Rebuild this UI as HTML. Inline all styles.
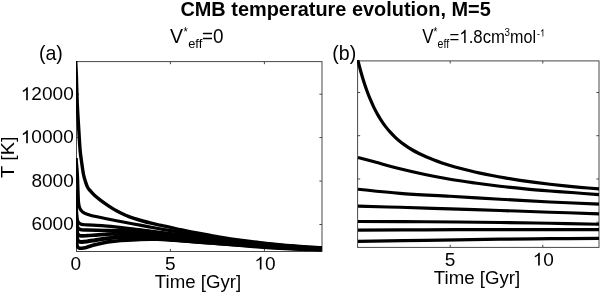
<!DOCTYPE html>
<html><head><meta charset="utf-8"><title>CMB temperature evolution</title>
<style>
html,body{margin:0;padding:0;background:#fff;}
body{width:600px;height:293px;overflow:hidden;}
svg{display:block;}
text{font-family:"Liberation Sans",sans-serif;fill:#000;}
</style></head><body>
<svg width="600" height="293" viewBox="0 0 600 293">
<rect x="0" y="0" width="600" height="293" fill="#fff"/>

<g stroke="#484848" stroke-width="1" fill="none"><rect x="76.50" y="61.60" width="245.50" height="189.90"/><path d="M170.40 251.50 v-2.60 M170.40 61.60 v2.60"/><path d="M264.40 251.50 v-2.60 M264.40 61.60 v2.60"/><path d="M76.50 94.20 h2.60 M322.00 94.20 h-2.60"/><path d="M76.50 137.60 h2.60 M322.00 137.60 h-2.60"/><path d="M76.50 181.10 h2.60 M322.00 181.10 h-2.60"/><path d="M76.50 224.50 h2.60 M322.00 224.50 h-2.60"/></g>
<g stroke="#484848" stroke-width="1" fill="none"><rect x="357.60" y="60.90" width="241.40" height="186.50"/><path d="M450.20 247.40 v-2.60 M450.20 60.90 v2.60"/><path d="M542.80 247.40 v-2.60 M542.80 60.90 v2.60"/><path d="M357.60 92.50 h2.60 M599.00 92.50 h-2.60"/><path d="M357.60 135.70 h2.60 M599.00 135.70 h-2.60"/><path d="M357.60 179.00 h2.60 M599.00 179.00 h-2.60"/><path d="M357.60 222.20 h2.60 M599.00 222.20 h-2.60"/></g>
<defs><clipPath id="ca"><rect x="76.00" y="61.00" width="246.00" height="191.00"/></clipPath><clipPath id="cb"><rect x="357.00" y="60.00" width="242.50" height="188.00"/></clipPath></defs>
<g clip-path="url(#ca)"><g transform="scale(1 1)" fill="none" stroke="#000" stroke-linecap="butt" stroke-linejoin="round">
<path d="M75.60 58.00 C75.62 58.58 75.57 58.50 75.70 61.50 C75.83 64.50 76.25 72.25 76.40 76.00 C76.55 79.75 76.45 79.33 76.60 84.00 C76.75 88.67 76.98 97.17 77.30 104.00 C77.62 110.83 78.03 117.33 78.50 125.00 C78.97 132.67 79.58 143.83 80.10 150.00 C80.62 156.17 81.05 158.00 81.60 162.00 C82.15 166.00 82.77 170.75 83.40 174.00 C84.03 177.25 84.68 179.25 85.40 181.50 C86.12 183.75 86.75 185.80 87.70 187.50 C88.65 189.20 89.88 190.32 91.10 191.70 C92.32 193.08 93.52 194.45 95.00 195.80 C96.48 197.15 97.75 198.13 100.00 199.80 C102.25 201.47 105.67 203.92 108.50 205.80 C111.33 207.68 114.15 209.53 117.00 211.10 C119.85 212.67 122.77 213.98 125.60 215.20 C128.43 216.42 131.15 217.43 134.00 218.40 C136.85 219.37 139.83 220.20 142.70 221.00 C145.57 221.80 148.37 222.52 151.20 223.20 C154.03 223.88 156.85 224.48 159.70 225.10 C162.55 225.72 164.92 226.15 168.30 226.90 C171.68 227.65 176.22 228.77 180.00 229.60 C183.78 230.43 186.33 231.00 191.00 231.90 C195.67 232.80 203.17 234.13 208.00 235.00 C212.83 235.87 214.67 236.25 220.00 237.10 C225.33 237.95 233.33 239.18 240.00 240.10 C246.67 241.02 251.67 241.68 260.00 242.60 C268.33 243.52 279.67 244.73 290.00 245.60 C300.33 246.47 316.67 247.43 322.00 247.80" stroke-width="3.4"/>
<path d="M76.20 158.00 C76.23 158.67 76.20 159.33 76.40 162.00 C76.60 164.67 77.13 169.33 77.40 174.00 C77.67 178.67 77.82 185.33 78.00 190.00 C78.18 194.67 78.27 199.17 78.50 202.00 C78.73 204.83 78.98 205.62 79.40 207.00 C79.82 208.38 80.17 209.27 81.00 210.30 C81.83 211.33 82.72 212.33 84.40 213.20 C86.08 214.07 87.20 214.53 91.10 215.50 C95.00 216.47 102.23 217.87 107.80 219.00 C113.37 220.13 118.92 221.23 124.50 222.30 C130.08 223.37 135.72 224.37 141.30 225.40 C146.88 226.43 152.55 227.53 158.00 228.50 C163.45 229.47 168.50 230.32 174.00 231.20 C179.50 232.08 183.33 232.60 191.00 233.80 C198.67 235.00 208.50 236.83 220.00 238.40 C231.50 239.97 248.33 241.93 260.00 243.20 C271.67 244.47 279.67 245.18 290.00 246.00 C300.33 246.82 316.67 247.75 322.00 248.10" stroke-width="3.2"/>
<path d="M76.20 190.00 C76.25 193.33 76.33 205.17 76.50 210.00 C76.67 214.83 76.82 216.87 77.20 219.00 C77.58 221.13 78.07 221.90 78.80 222.80 C79.53 223.70 80.23 224.05 81.60 224.40 C82.97 224.75 83.25 224.67 87.00 224.90 C90.75 225.13 98.68 225.40 104.10 225.80 C109.52 226.20 113.52 226.63 119.50 227.30 C125.48 227.97 132.25 228.85 140.00 229.80 C147.75 230.75 157.50 231.97 166.00 233.00 C174.50 234.03 182.00 234.90 191.00 236.00 C200.00 237.10 208.50 238.28 220.00 239.60 C231.50 240.92 248.33 242.75 260.00 243.90 C271.67 245.05 279.75 245.73 290.00 246.50 C300.25 247.27 316.25 248.17 321.50 248.50" stroke-width="3.2"/>
<path d="M76.20 205.00 C76.27 207.67 76.40 217.40 76.60 221.00 C76.80 224.60 77.00 225.27 77.40 226.60 C77.80 227.93 78.23 228.45 79.00 229.00 C79.77 229.55 80.67 229.73 82.00 229.90 C83.33 230.07 83.33 229.92 87.00 230.00 C90.67 230.08 98.87 230.28 104.00 230.40 C109.13 230.52 111.80 230.42 117.80 230.70 C123.80 230.98 131.97 231.42 140.00 232.10 C148.03 232.78 157.50 233.90 166.00 234.80 C174.50 235.70 182.00 236.52 191.00 237.50 C200.00 238.48 208.50 239.52 220.00 240.70 C231.50 241.88 248.33 243.55 260.00 244.60 C271.67 245.65 279.75 246.30 290.00 247.00 C300.25 247.70 316.25 248.50 321.50 248.80" stroke-width="3.4"/>
<path d="M76.20 215.00 C76.27 217.17 76.40 225.00 76.60 228.00 C76.80 231.00 77.00 231.78 77.40 233.00 C77.80 234.22 78.30 234.82 79.00 235.30 C79.70 235.78 80.27 235.83 81.60 235.90 C82.93 235.97 84.77 235.83 87.00 235.70 C89.23 235.57 92.17 235.32 95.00 235.10 C97.83 234.88 100.17 234.63 104.00 234.40 C107.83 234.17 112.00 233.72 118.00 233.70 C124.00 233.68 132.00 233.85 140.00 234.30 C148.00 234.75 157.50 235.63 166.00 236.40 C174.50 237.17 182.00 238.00 191.00 238.90 C200.00 239.80 208.50 240.73 220.00 241.80 C231.50 242.87 248.33 244.35 260.00 245.30 C271.67 246.25 279.75 246.87 290.00 247.50 C300.25 248.13 316.25 248.83 321.50 249.10" stroke-width="3.7"/>
<path d="M76.20 225.00 C76.27 226.67 76.40 232.57 76.60 235.00 C76.80 237.43 77.00 238.50 77.40 239.60 C77.80 240.70 78.30 241.20 79.00 241.60 C79.70 242.00 80.27 242.02 81.60 242.00 C82.93 241.98 84.77 241.80 87.00 241.50 C89.23 241.20 92.17 240.67 95.00 240.20 C97.83 239.73 100.17 239.20 104.00 238.70 C107.83 238.20 112.00 237.52 118.00 237.20 C124.00 236.88 132.00 236.63 140.00 236.80 C148.00 236.97 157.50 237.62 166.00 238.20 C174.50 238.78 182.00 239.53 191.00 240.30 C200.00 241.07 208.50 241.85 220.00 242.80 C231.50 243.75 248.33 245.13 260.00 246.00 C271.67 246.87 279.75 247.43 290.00 248.00 C300.25 248.57 316.25 249.17 321.50 249.40" stroke-width="4"/>
<path d="M76.20 236.00 C76.27 237.17 76.40 241.27 76.60 243.00 C76.80 244.73 77.03 245.58 77.40 246.40 C77.77 247.22 78.20 247.58 78.80 247.90 C79.40 248.22 80.22 248.28 81.00 248.30 C81.78 248.32 82.50 248.18 83.50 248.00 C84.50 247.82 85.08 247.73 87.00 247.20 C88.92 246.67 92.17 245.55 95.00 244.80 C97.83 244.05 101.17 243.27 104.00 242.70 C106.83 242.13 109.13 241.77 112.00 241.40 C114.87 241.03 116.53 240.83 121.20 240.50 C125.87 240.17 134.03 239.60 140.00 239.40 C145.97 239.20 151.33 239.15 157.00 239.30 C162.67 239.45 168.33 239.93 174.00 240.30 C179.67 240.67 185.33 241.08 191.00 241.50 C196.67 241.92 203.17 242.43 208.00 242.80 C212.83 243.17 211.33 243.02 220.00 243.70 C228.67 244.38 248.33 246.08 260.00 246.90 C271.67 247.72 279.75 248.13 290.00 248.60 C300.25 249.07 316.25 249.52 321.50 249.70" stroke-width="3.6"/>
</g>
<path d="M119.0 226.5 L140.0 228.5 L166.0 232.0 L200.0 236.0 L250.0 241.5 L321.5 247.0 L321.5 250.6 L250.0 247.6 L200.0 244.0 L166.0 241.0 L140.0 239.8 L121.0 239.8 L112.0 238.0 Z" fill="#000"/>
</g>
<g clip-path="url(#cb)"><g transform="scale(1 1)" fill="none" stroke="#000" stroke-linecap="butt" stroke-linejoin="round">
<path d="M357.60 59.50 C357.70 59.85 357.63 59.48 358.20 61.60 C358.77 63.72 360.03 68.77 361.00 72.20 C361.97 75.63 363.00 79.07 364.00 82.20 C365.00 85.33 366.00 88.25 367.00 91.00 C368.00 93.75 368.83 95.93 370.00 98.70 C371.17 101.47 372.67 104.87 374.00 107.60 C375.33 110.33 376.67 112.77 378.00 115.10 C379.33 117.43 380.67 119.59 382.00 121.60 C383.33 123.61 384.67 125.42 386.00 127.14 C387.33 128.86 388.50 130.28 390.00 131.94 C391.50 133.60 393.33 135.49 395.00 137.08 C396.67 138.67 398.17 139.99 400.00 141.47 C401.83 142.95 404.00 144.56 406.00 145.94 C408.00 147.32 409.83 148.48 412.00 149.75 C414.17 151.02 416.67 152.37 419.00 153.55 C421.33 154.73 423.50 155.73 426.00 156.82 C428.50 157.91 431.33 159.05 434.00 160.07 C436.67 161.09 439.33 162.02 442.00 162.92 C444.67 163.82 447.00 164.57 450.00 165.46 C453.00 166.35 456.67 167.39 460.00 168.28 C463.33 169.17 466.67 170.01 470.00 170.81 C473.33 171.61 476.33 172.29 480.00 173.08 C483.67 173.87 487.83 174.73 492.00 175.53 C496.17 176.33 500.33 177.09 505.00 177.89 C509.67 178.69 515.00 179.55 520.00 180.30 C525.00 181.05 530.00 181.75 535.00 182.41 C540.00 183.07 545.00 183.69 550.00 184.27 C555.00 184.85 560.00 185.39 565.00 185.90 C570.00 186.41 574.33 186.84 580.00 187.34 C585.67 187.84 595.83 188.66 599.00 188.92" stroke-width="3.2"/>
<path d="M358.00 157.50 C360.83 158.25 368.00 160.12 375.00 162.00 C382.00 163.88 391.67 166.67 400.00 168.75 C408.33 170.83 416.67 172.75 425.00 174.50 C433.33 176.25 441.67 177.83 450.00 179.25 C458.33 180.67 466.67 181.83 475.00 183.00 C483.33 184.17 491.67 185.28 500.00 186.25 C508.33 187.22 516.67 188.07 525.00 188.85 C533.33 189.63 541.67 190.29 550.00 190.95 C558.33 191.61 566.83 192.19 575.00 192.80 C583.17 193.41 595.00 194.30 599.00 194.60" stroke-width="3.1"/>
<path d="M358.00 189.20 C365.00 189.90 384.67 192.22 400.00 193.40 C415.33 194.58 433.33 195.33 450.00 196.30 C466.67 197.27 483.33 198.25 500.00 199.20 C516.67 200.15 533.50 201.18 550.00 202.00 C566.50 202.82 590.83 203.75 599.00 204.10" stroke-width="3.1"/>
<path d="M358.00 206.10 C365.00 206.30 384.67 206.83 400.00 207.30 C415.33 207.77 433.33 208.37 450.00 208.90 C466.67 209.43 483.33 209.95 500.00 210.50 C516.67 211.05 533.50 211.63 550.00 212.20 C566.50 212.77 590.83 213.62 599.00 213.90" stroke-width="3.1"/>
<path d="M358.00 221.50 C369.17 221.53 401.33 221.53 425.00 221.70 C448.67 221.87 479.17 222.23 500.00 222.50 C520.83 222.77 533.50 223.02 550.00 223.30 C566.50 223.58 590.83 224.05 599.00 224.20" stroke-width="3.1"/>
<path d="M358.00 230.10 C369.17 230.05 401.33 229.88 425.00 229.80 C448.67 229.72 479.17 229.63 500.00 229.60 C520.83 229.57 533.50 229.60 550.00 229.60 C566.50 229.60 590.83 229.60 599.00 229.60" stroke-width="3.2"/>
<path d="M358.00 241.40 C369.17 241.22 401.33 240.67 425.00 240.30 C448.67 239.93 479.17 239.47 500.00 239.20 C520.83 238.93 533.50 238.83 550.00 238.70 C566.50 238.57 590.83 238.45 599.00 238.40" stroke-width="3.2"/>
</g></g>
<g opacity="0.999">
<text transform="translate(180.40 15.50) scale(0.9960 1.0000)" font-size="20" text-anchor="start" font-weight="bold">CMB temperature evolution, M=5</text>
<text transform="translate(170.10 43.00) scale(1.0000 1.0000)" font-size="19.5" text-anchor="start">V</text>
<text transform="translate(183.55 36.40) scale(0.8500 1.0000)" font-size="13" text-anchor="start">*</text>
<text transform="translate(188.20 47.70) scale(1.0300 1.0000)" font-size="12.5" text-anchor="start">eff</text>
<text transform="translate(202.00 43.00) scale(0.9700 1.0000)" font-size="19.5" text-anchor="start">=0</text>
<text transform="translate(422.30 43.00) scale(0.8700 1.0000)" font-size="19.5" text-anchor="start">V</text>
<text transform="translate(433.50 36.40) scale(0.7500 1.0000)" font-size="13" text-anchor="start">*</text>
<text transform="translate(437.60 47.70) scale(0.8500 1.0000)" font-size="12.5" text-anchor="start">eff</text>
<text transform="translate(449.60 42.90) scale(0.9150 1.0000)" font-size="18.3" text-anchor="start">=</text><path transform="translate(459.38 42.90) scale(0.00818 -0.00894)" d="M763 0L583 0L583 1147Q518 1085 412.5 1023Q307 961 223 930L223 1104Q374 1175 487 1276Q600 1377 647 1472L763 1472Z" fill="#000"/><text transform="translate(468.69 42.90) scale(0.9150 1.0000)" font-size="18.3" text-anchor="start">.8cm</text>
<text transform="translate(504.50 36.20) scale(0.8500 1.0000)" font-size="11.5" text-anchor="start">3</text>
<text transform="translate(510.10 42.80) scale(0.8800 1.0000)" font-size="18.3" text-anchor="start">mol</text>
<text transform="translate(537.00 36.60) scale(0.8500 1.0000)" font-size="10.5" text-anchor="start">-</text><path transform="translate(539.97 36.60) scale(0.00436 -0.00513)" d="M763 0L583 0L583 1147Q518 1085 412.5 1023Q307 961 223 930L223 1104Q374 1175 487 1276Q600 1377 647 1472L763 1472Z" fill="#000"/>
<text transform="translate(38.90 59.70) scale(0.9550 1.0000)" font-size="20.5" text-anchor="start">(a)</text>
<text transform="translate(332.30 59.80) scale(0.9550 1.0000)" font-size="20.5" text-anchor="start">(b)</text>
<path transform="translate(20.74 100.20) scale(0.00932 -0.00879)" d="M763 0L583 0L583 1147Q518 1085 412.5 1023Q307 961 223 930L223 1104Q374 1175 487 1276Q600 1377 647 1472L763 1472Z" fill="#000"/><text transform="translate(31.35 100.20) scale(1.0600 1.0000)" font-size="18" text-anchor="start">2000</text>
<path transform="translate(20.74 143.30) scale(0.00932 -0.00879)" d="M763 0L583 0L583 1147Q518 1085 412.5 1023Q307 961 223 930L223 1104Q374 1175 487 1276Q600 1377 647 1472L763 1472Z" fill="#000"/><text transform="translate(31.35 143.30) scale(1.0600 1.0000)" font-size="18" text-anchor="start">0000</text>
<text transform="translate(73.80 186.70) scale(1.0600 1.0000)" font-size="18" text-anchor="end">8000</text>
<text transform="translate(73.80 229.90) scale(1.0600 1.0000)" font-size="18" text-anchor="end">6000</text>
<text transform="translate(13.60 157.20) rotate(-90) scale(1.1000 1.0000)" font-size="18" text-anchor="middle">T [K]</text>
<text transform="translate(75.90 269.60) scale(1.0600 1.0000)" font-size="18" text-anchor="middle">0</text>
<text transform="translate(170.40 269.60) scale(1.0600 1.0000)" font-size="18" text-anchor="middle">5</text>
<path transform="translate(254.39 269.60) scale(0.00932 -0.00879)" d="M763 0L583 0L583 1147Q518 1085 412.5 1023Q307 961 223 930L223 1104Q374 1175 487 1276Q600 1377 647 1472L763 1472Z" fill="#000"/><text transform="translate(265.00 269.60) scale(1.0600 1.0000)" font-size="18" text-anchor="start">0</text>
<text transform="translate(198.00 288.30) scale(1.0100 1.0000)" font-size="18.5" text-anchor="middle">Time [Gyr]</text>
<text transform="translate(450.10 265.60) scale(1.0600 1.0000)" font-size="18" text-anchor="middle">5</text>
<path transform="translate(532.69 265.60) scale(0.00932 -0.00879)" d="M763 0L583 0L583 1147Q518 1085 412.5 1023Q307 961 223 930L223 1104Q374 1175 487 1276Q600 1377 647 1472L763 1472Z" fill="#000"/><text transform="translate(543.30 265.60) scale(1.0600 1.0000)" font-size="18" text-anchor="start">0</text>
<text transform="translate(477.00 284.40) scale(1.0100 1.0000)" font-size="18.5" text-anchor="middle">Time [Gyr]</text>
</g>
</svg></body></html>
